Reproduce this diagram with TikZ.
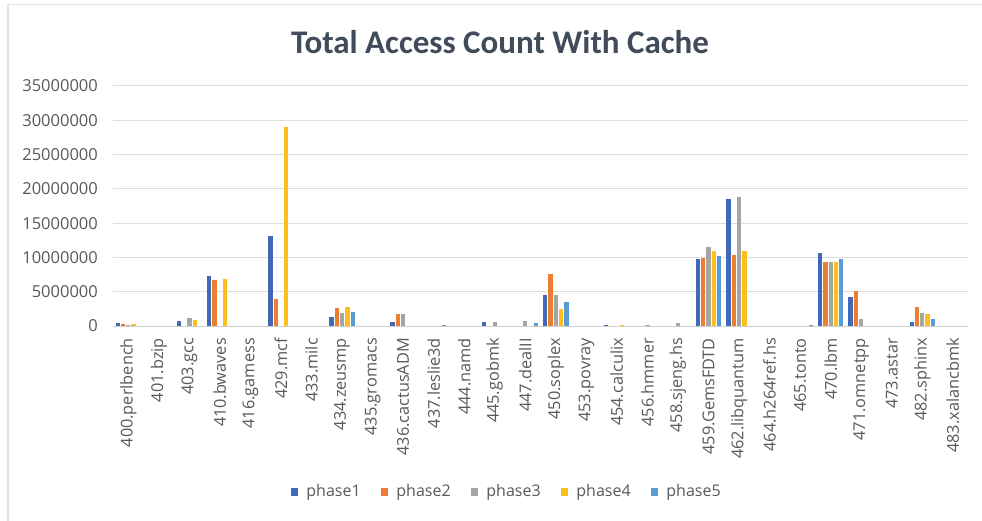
\documentclass[tikz,border=0pt]{standalone}
\usepackage{fontspec}
\setmainfont{Open Sans}
\newfontfamily\titlefont{Carlito}

\definecolor{framecol}{HTML}{E3E3E3}
\definecolor{gridcol}{HTML}{DDDDDD}
\definecolor{axiscol}{HTML}{CFCFCF}
\definecolor{labelcol}{HTML}{595959}
\definecolor{titlecol}{HTML}{414B5A}
\definecolor{phaseA}{HTML}{4169B8}
\definecolor{phaseB}{HTML}{ED7D31}
\definecolor{phaseC}{HTML}{A5A5A5}
\definecolor{phaseD}{HTML}{FBC01E}
\definecolor{phaseE}{HTML}{5B9BD5}

\tikzset{
  ticklabel/.style={font=\fontsize{16.5}{18}\selectfont, text=labelcol, inner sep=0pt},
  catlabel/.style={font=\fontsize{16.3}{18}\selectfont, text=labelcol, inner sep=0pt, rotate=90, anchor=east},
  legendtext/.style={font=\fontsize{16}{18}\selectfont, text=labelcol, inner sep=0pt, anchor=west},
  gridline/.style={draw=gridcol, line width=1pt},
}

% plot geometry (1 unit = 1 px, y grows downwards)
\def\plotL{113}
\def\plotR{968}
\def\zeroY{326}
\def\catW{30.54}
\def\barStep{5.3}
\def\barHalf{2.15}
\def\perM{6.857}

% one group of five bars: category index, then the five values in millions
\newcommand\bargroup[6]{%
  \foreach \val [count=\p] in {#2,#3,#4,#5,#6}{%
    \pgfmathsetmacro\bc{\plotL+(#1+0.5)*\catW+(\p-3)*\barStep}%
    \pgfmathsetmacro\bt{\zeroY-\val*\perM}%
    \ifnum\p=1 \def\bcol{phaseA}\fi
    \ifnum\p=2 \def\bcol{phaseB}\fi
    \ifnum\p=3 \def\bcol{phaseC}\fi
    \ifnum\p=4 \def\bcol{phaseD}\fi
    \ifnum\p=5 \def\bcol{phaseE}\fi
    \fill[\bcol] (\bc-\barHalf,\zeroY) rectangle (\bc+\barHalf,\bt);
  }%
}

\begin{document}
\begin{tikzpicture}[x=1pt,y=-1pt]
\fill[white] (0,0) rectangle (982,521);
\useasboundingbox (0,0) rectangle (982,521);

% chart frame
\draw[framecol, line width=1.2pt] (8,521) -- (8,4.5) -- (982,4.5);

% title
\node[font=\titlefont\bfseries\fontsize{33}{36}\selectfont, text=titlecol, inner sep=0pt]
  (title) at (500,42) {Total Access Count With Cache};

% gridlines and value axis labels
\foreach \v/\txt in {0/0,1/5000000,2/10000000,3/15000000,4/20000000,5/25000000,6/30000000,7/35000000}{
  \ifnum\v>0
    \draw[gridline] (\plotL,\zeroY-\v*34.29) -- (\plotR,\zeroY-\v*34.29);
  \fi
  \node[ticklabel, anchor=east] (ylab\v) at (98,\zeroY-\v*34.29) {\txt};
}

% bars
\bargroup{0}{0.5}{0.3}{0.1}{0.35}{0}
\bargroup{2}{0.8}{0}{1.2}{0.9}{0}
\bargroup{3}{7.25}{6.75}{0}{6.85}{0}
\bargroup{5}{13.1}{3.9}{0}{29.0}{0}
\bargroup{7}{1.36}{2.6}{1.85}{2.77}{2.04}
\bargroup{9}{0.58}{1.7}{1.7}{0}{0}
\bargroup{10}{0}{0}{0}{0}{0.15}
\bargroup{12}{0.58}{0}{0.58}{0}{0}
\bargroup{13}{0}{0}{0.77}{0}{0.4}
\bargroup{14}{4.47}{7.58}{4.47}{2.43}{3.55}
\bargroup{16}{0.2}{0}{0}{0.15}{0}
\bargroup{17}{0}{0}{0.2}{0}{0}
\bargroup{18}{0}{0}{0.4}{0}{0}
\bargroup{19}{9.8}{9.96}{11.5}{10.9}{10.2}
\bargroup{20}{18.5}{10.35}{18.8}{10.9}{0}
\bargroup{22}{0}{0}{0}{0}{0.15}
\bargroup{23}{10.7}{9.4}{9.4}{9.4}{9.8}
\bargroup{24}{4.27}{5.06}{1.02}{0}{0}
\bargroup{26}{0.58}{2.82}{1.9}{1.7}{0.97}

% category axis line
\draw[draw=axiscol, line width=1pt] (\plotL,\zeroY) -- (\plotR,\zeroY);

% category labels
\foreach \n [count=\k from 0] in {400.perlbench,401.bzip,403.gcc,410.bwaves,416.gamess,429.mcf,433.milc,434.zeusmp,435.gromacs,436.cactusADM,437.leslie3d,444.namd,445.gobmk,447.dealII,450.soplex,453.povray,454.calculix,456.hmmer,458.sjeng.hs,459.GemsFDTD,462.libquantum,464.h264ref.hs,465.tonto,470.lbm,471.omnetpp,473.astar,482.sphinx,483.xalancbmk}{
  \node[catlabel] (cat\k) at ({\plotL+(\k+0.5)*\catW},338) {\n};
}

% legend
\foreach \c [count=\i from 0] in {phaseA,phaseB,phaseC,phaseD,phaseE}{
  \fill[\c] ({290.7+90*\i},488.2) rectangle ++(7.6,7.6);
  \node[legendtext] (leg\i) at ({290.7+90*\i+15.5},492.5) {phase\the\numexpr\i+1\relax};
}
\end{tikzpicture}
\end{document}
